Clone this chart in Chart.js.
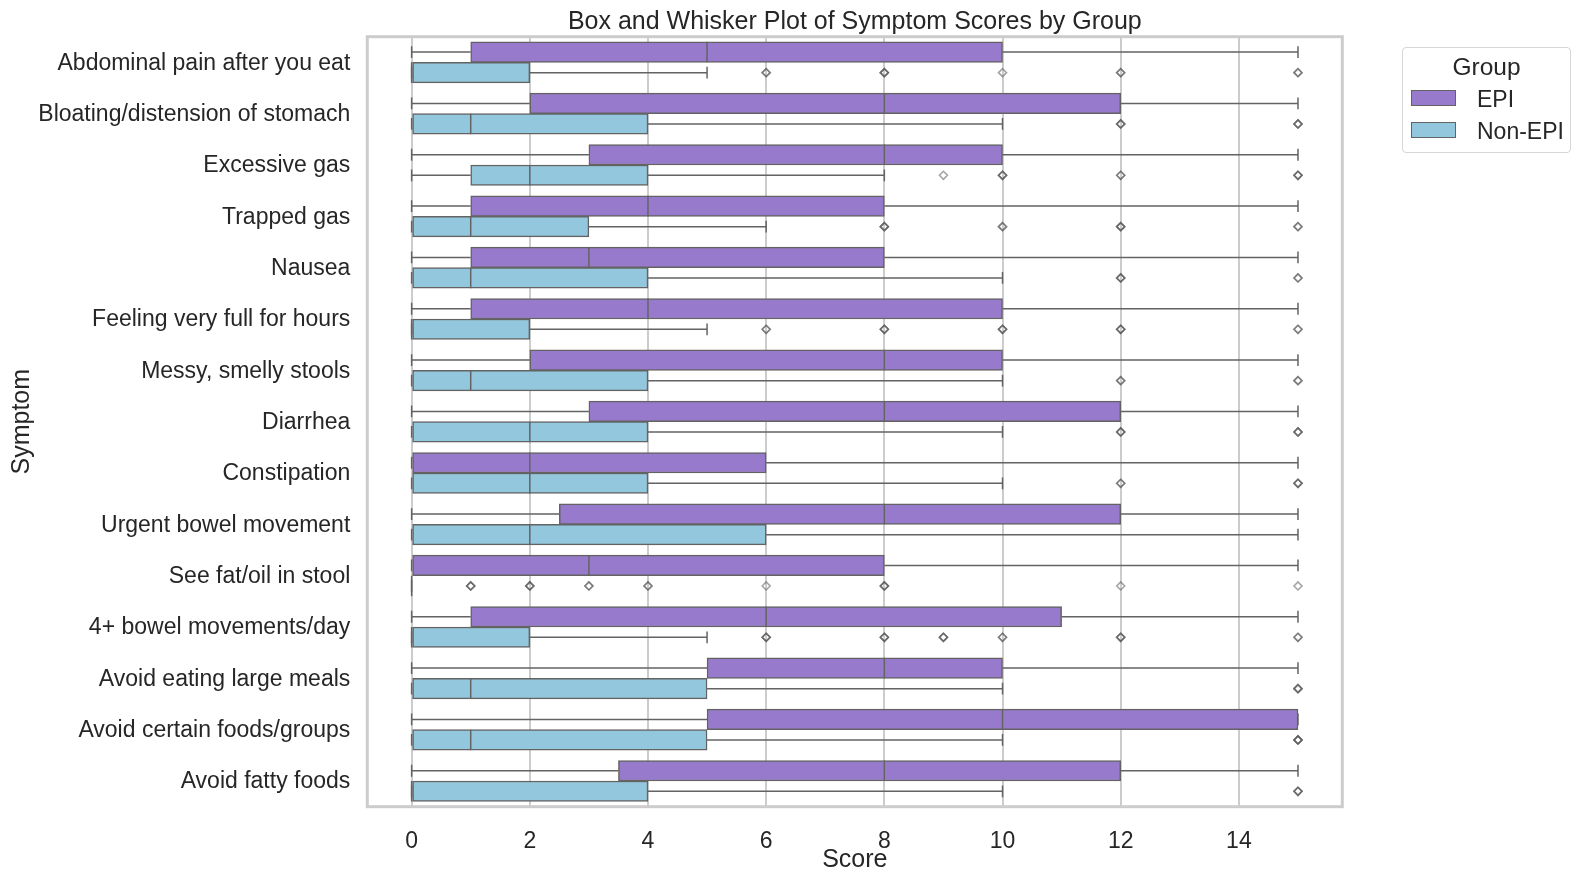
<!DOCTYPE html>
<html>
<head>
<meta charset="utf-8">
<script src="https://cdn.jsdelivr.net/npm/chart.js@4"></script>
<style>
    html, body { margin: 0; padding: 0; background: #fff; }
    #wrap { position: relative; width: 1581px; height: 882px; font-family: "Liberation Sans", Arial, sans-serif; color: #262626; }
    #legendBox { position: absolute; left: 1402px; top: 47px; width: 167px; height: 104px; border: 1.5px solid #d6d6d6; border-radius: 4px; background: #fff; }
    #legendBox .title { position: absolute; left: 0; right: 0; top: 5px; text-align: center; font-size: 24.5px; line-height: 28px; }
    #legendBox .swatch { position: absolute; left: 8px; width: 43px; height: 14px; border: 1.5px solid #636363; }
    #legendBox .label { position: absolute; left: 74px; font-size: 23px; line-height: 26px; }
</style>
</head>
<body>
<div id="wrap">
    <canvas id="chart" width="1581" height="882"></canvas>
    <div id="legendBox">
        <div class="title">Group</div>
        <div class="swatch" style="top:42px;background:#987ACC"></div>
        <div class="label" style="top:38px">EPI</div>
        <div class="swatch" style="top:74px;background:#93C7DD"></div>
        <div class="label" style="top:70px">Non-EPI</div>
    </div>
</div>
<script>
const symptoms = [
    "Abdominal pain after you eat", "Bloating/distension of stomach", "Excessive gas",
    "Trapped gas", "Nausea", "Feeling very full for hours", "Messy, smelly stools",
    "Diarrhea", "Constipation", "Urgent bowel movement", "See fat/oil in stool",
    "4+ bowel movements/day", "Avoid eating large meals", "Avoid certain foods/groups",
    "Avoid fatty foods"
];
const xTicks = [0, 2, 4, 6, 8, 10, 12, 14];

const epiMin = [0, 0, 0, 0, 0, 0, 0, 0, 0, 0, 0, 0, 0, 0, 0];
const epiQ1  = [1, 2, 3, 1, 1, 1, 2, 3, 0, 2.5, 0, 1, 5, 5, 3.5];
const epiMed = [5, 8, 8, 4, 3, 4, 8, 8, 2, 8, 3, 6, 8, 10, 8];
const epiQ3  = [10, 12, 10, 8, 8, 10, 10, 12, 6, 12, 8, 11, 10, 15, 12];
const epiMax = [15, 15, 15, 15, 15, 15, 15, 15, 15, 15, 15, 15, 15, 15, 15];

const nonMin = [0, 0, 0, 0, 0, 0, 0, 0, 0, 0, 0, 0, 0, 0, 0];
const nonQ1  = [0, 0, 1, 0, 0, 0, 0, 0, 0, 0, 0, 0, 0, 0, 0];
const nonMed = [0, 1, 2, 1, 1, 0, 1, 2, 2, 2, 0, 0, 1, 1, 0];
const nonQ3  = [2, 4, 4, 3, 4, 2, 4, 4, 4, 6, 0, 2, 5, 5, 4];
const nonMax = [5, 10, 8, 6, 10, 5, 10, 10, 10, 15, 0, 5, 10, 10, 10];

// repeated values = several patients on the same score, they darken the marker
const nonOutliers = [
    [6, 6, 8, 8, 8, 10, 12, 12, 15, 15],
    [12, 12, 12, 15, 15, 15],
    [9, 10, 10, 10, 12, 12, 15, 15, 15],
    [8, 8, 8, 10, 10, 12, 12, 12, 15, 15],
    [12, 12, 12, 15, 15],
    [6, 6, 8, 8, 8, 10, 10, 10, 12, 12, 12, 15, 15],
    [12, 12, 15, 15],
    [12, 12, 12, 15, 15, 15],
    [12, 12, 15, 15, 15],
    [],
    [1, 1, 1, 2, 2, 2, 3, 3, 4, 4, 6, 8, 8, 8, 12, 15],
    [6, 6, 6, 8, 8, 8, 9, 9, 9, 10, 10, 12, 12, 12, 15, 15],
    [15, 15, 15],
    [15, 15, 15, 15],
    [15, 15, 15]
];

const EDGE = "#636363";
const GRID = "#cccccc";
const TEXT = "#262626";
const FONT = "'Liberation Sans', Arial, sans-serif";
const HALF_BOX = 0.2;
const CAP = 0.115;

function whiskerPoints(mins, q1s, q3s, maxs, offset) {
    const pts = [];
    symptoms.forEach((s, i) => {
        const y = i + offset;
        pts.push({ x: mins[i], y: y }, { x: q1s[i], y: y }, { x: null, y: null });
        pts.push({ x: q3s[i], y: y }, { x: maxs[i], y: y }, { x: null, y: null });
        pts.push({ x: mins[i], y: y - CAP }, { x: mins[i], y: y + CAP }, { x: null, y: null });
        pts.push({ x: maxs[i], y: y - CAP }, { x: maxs[i], y: y + CAP }, { x: null, y: null });
    });
    return pts;
}

function medianPoints(meds, offset) {
    const pts = [];
    meds.forEach((m, i) => {
        pts.push({ x: m, y: i + offset - HALF_BOX }, { x: m, y: i + offset + HALF_BOX }, { x: null, y: null });
    });
    return pts;
}

function lineSet(data, order) {
    return {
        type: "scatter", data: data, xAxisID: "x", yAxisID: "yNum", indexAxis: "x",
        showLine: true, spanGaps: false, borderColor: EDGE, borderWidth: 1.5,
        pointRadius: 0, order: order
    };
}

const outlierPoints = [];
nonOutliers.forEach((vals, i) => vals.forEach(v => outlierPoints.push({ x: v, y: i + HALF_BOX })));

const framePlugin = {
    id: "frame",
    afterDraw(chart) {
        const a = chart.chartArea;
        const ctx = chart.ctx;
        ctx.save();
        ctx.strokeStyle = GRID;
        ctx.lineWidth = 3;
        ctx.strokeRect(a.left, a.top, a.right - a.left, a.bottom - a.top);
        ctx.restore();
    }
};

new Chart(document.getElementById("chart"), {
    type: "bar",
    plugins: [framePlugin],
    data: {
        labels: symptoms,
        datasets: [
            lineSet(medianPoints(epiMed, -HALF_BOX), 1),
            lineSet(medianPoints(nonMed, HALF_BOX), 1),
            {
                type: "scatter", data: outlierPoints, xAxisID: "x", yAxisID: "yNum", indexAxis: "x",
                pointStyle: "rectRot", pointRadius: 4, pointBorderWidth: 1.6,
                pointBackgroundColor: "rgba(0,0,0,0)", pointBorderColor: "rgba(90,90,90,0.55)", order: 1
            },
            {
                label: "EPI", data: symptoms.map((s, i) => [epiQ1[i], epiQ3[i]]),
                backgroundColor: "#987ACC", borderColor: EDGE, borderWidth: 1.5, borderSkipped: false,
                barThickness: 20.5, xAxisID: "x", yAxisID: "y", order: 2
            },
            {
                label: "Non-EPI", data: symptoms.map((s, i) => [nonQ1[i], nonQ3[i]]),
                backgroundColor: "#93C7DD", borderColor: EDGE, borderWidth: 1.5, borderSkipped: false,
                barThickness: 20.5, xAxisID: "x", yAxisID: "y", order: 2
            },
            lineSet(whiskerPoints(epiMin, epiQ1, epiQ3, epiMax, -HALF_BOX), 3),
            lineSet(whiskerPoints(nonMin, nonQ1, nonQ3, nonMax, HALF_BOX), 3)
        ]
    },
    options: {
        indexAxis: "y",
        responsive: false,
        animation: false,
        devicePixelRatio: 1,
        layout: { padding: { left: 0, right: 238.7, top: 0, bottom: 0 } },
        plugins: {
            legend: { display: false },
            tooltip: { enabled: false },
            title: {
                display: true, fullSize: false,
                text: "Box and Whisker Plot of Symptom Scores by Group",
                color: TEXT,
                font: { family: FONT, size: 25, weight: "normal", lineHeight: 1.2 },
                padding: { top: 6.7, bottom: 0 }
            }
        },
        scales: {
            x: {
                type: "linear", min: -0.75, max: 15.75,
                afterBuildTicks: axis => { axis.ticks = xTicks.map(v => ({ value: v })); },
                afterFit: axis => { axis.height = 882 - 806.7; },
                grid: { color: GRID, lineWidth: 2, drawTicks: false },
                border: { display: false },
                ticks: { color: TEXT, font: { family: FONT, size: 23 }, padding: 21, maxRotation: 0, autoSkip: false },
                title: { display: true, text: "Score", color: TEXT, font: { family: FONT, size: 25, lineHeight: 1.2 }, padding: { top: 0, bottom: 7 } }
            },
            y: {
                type: "category", position: "left", offset: true,
                afterFit: axis => { axis.width = 367.3; },
                grid: { display: false, drawTicks: false },
                border: { display: false },
                ticks: { color: TEXT, font: { family: FONT, size: 23 }, padding: 17, labelOffset: 1, crossAlign: "near", autoSkip: false },
                title: { display: true, text: "Symptom", color: TEXT, font: { family: FONT, size: 25, lineHeight: 1.2 }, padding: { top: 7, bottom: 0 } }
            },
            // first letter makes this an index axis, so the bar default offset has to be switched off
            yNum: { type: "linear", display: false, min: -0.5, max: 14.5, reverse: true, offset: false, grid: { offset: false } }
        }
    }
});
</script>
</body>
</html>
